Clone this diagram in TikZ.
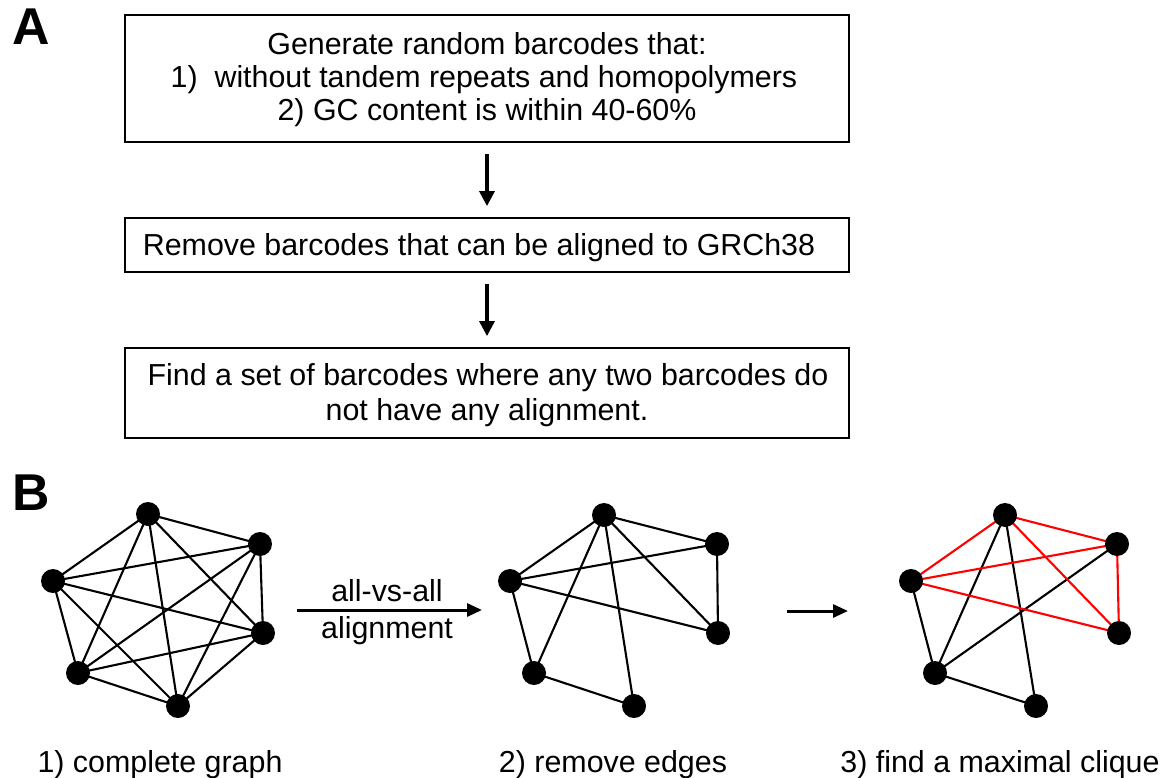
\documentclass[tikz,border=0pt]{standalone}
\usepackage{fontspec}
\setmainfont{Liberation Sans}
\usetikzlibrary{arrows.meta}
\tikzset{
  stepbox/.style={draw, line width=1.8bp, minimum width=724bp, inner sep=0pt},
  flowarrow/.style={line width=3.2bp, -{Triangle[length=15bp,width=15bp]}, shorten <=11bp, shorten >=11bp},
  sidearrow/.style={line width=3bp, -{Triangle[length=15bp,width=13bp]}},
  vertex/.style={circle, fill=black, minimum size=24bp, inner sep=0pt},
  edge/.style={line width=2.1bp, black},
  clique/.style={line width=2.1bp, red},
  panel/.style={font=\fontsize{52}{52}\selectfont\bfseries, anchor=base},
  txt/.style={font=\fontsize{30.5}{30.5}\selectfont, anchor=base, inner sep=0pt},
}
\begin{document}
\begin{tikzpicture}[x=1bp, y=-1bp]
\useasboundingbox (0,0) rectangle (1175,778);

% panel letters
\node[panel, inner sep=0pt] (pA) at (31,45) {A};
\node[panel, inner sep=0pt] (pB) at (31,510) {B};

% panel A: pipeline boxes
\node[stepbox, minimum height=127bp] (b1) at (487,78.5) {};
\node[stepbox, minimum height=54bp] (b2) at (487,245) {};
\node[stepbox, minimum height=90bp] (b3) at (487,393) {};

\node[txt] (t1a) at (487,55) {Generate random barcodes that:};
\node[txt] (t1b) at (484,88) {1)\ \ without tandem repeats and homopolymers};
\node[txt] (t1c) at (487,120) {2) GC content is within 40-60\%};
\node[txt] (t2) at (479,255) {Remove barcodes that can be aligned to GRCh38};
\node[txt] (t3a) at (488,385) {Find a set of barcodes where any two barcodes do};
\node[txt] (t3b) at (487,420) {not have any alignment.};

\draw[flowarrow] (b1.south) -- (b2.north);
\draw[flowarrow] (b2.south) -- (b3.north);

% panel B: graph 1, complete graph
\coordinate (g1t) at (148,514);
\coordinate (g1ur) at (260,544);
\coordinate (g1l) at (53,581);
\coordinate (g1r) at (263,633);
\coordinate (g1ll) at (78,673);
\coordinate (g1b) at (178,706);
\foreach \a/\b in {t/ur,t/l,t/r,t/ll,t/b,ur/l,ur/r,ur/ll,ur/b,l/r,l/ll,l/b,r/ll,r/b,ll/b}
  \draw[edge] (g1\a) -- (g1\b);
\foreach \v in {t,ur,l,r,ll,b}
  \node[vertex] (n1\v) at (g1\v) {};

% graph 2, edges removed
\coordinate (g2t) at (604,515);
\coordinate (g2ur) at (717,544);
\coordinate (g2l) at (510,581);
\coordinate (g2r) at (718,633);
\coordinate (g2ll) at (534,673);
\coordinate (g2b) at (634,706);
\foreach \a/\b in {t/ur,t/l,t/ll,t/b,t/r,l/ur,l/r,l/ll,ur/r,ll/b}
  \draw[edge] (g2\a) -- (g2\b);
\foreach \v in {t,ur,l,r,ll,b}
  \node[vertex] (n2\v) at (g2\v) {};

% graph 3, maximal clique in red
\coordinate (g3t) at (1005,515);
\coordinate (g3ur) at (1117,544);
\coordinate (g3l) at (911,581);
\coordinate (g3r) at (1119,633);
\coordinate (g3ll) at (935,673);
\coordinate (g3b) at (1036,706);
\foreach \a/\b in {t/ll,t/b,l/ll,ur/ll,ll/b}
  \draw[edge] (g3\a) -- (g3\b);
\foreach \a/\b in {t/ur,t/l,t/r,l/ur,l/r,ur/r}
  \draw[clique] (g3\a) -- (g3\b);
\foreach \v in {t,ur,l,r,ll,b}
  \node[vertex] (n3\v) at (g3\v) {};

% arrows between graphs
\coordinate (m1s) at (297,610);
\coordinate (m1e) at (482,610);
\draw[sidearrow] (m1s) -- (m1e);
\node[txt] (lab1) at (387,601) {all-vs-all};
\node[txt] (lab2) at (387,638) {alignment};
\coordinate (m2s) at (787,611);
\coordinate (m2e) at (848,611);
\draw[sidearrow] (m2s) -- (m2e);

% captions
\node[txt] (c1) at (160,772) {1) complete graph};
\node[txt] (c2) at (613,772) {2) remove edges};
\node[txt] (c3) at (1000,772) {3) find a maximal clique};
\end{tikzpicture}
\end{document}
